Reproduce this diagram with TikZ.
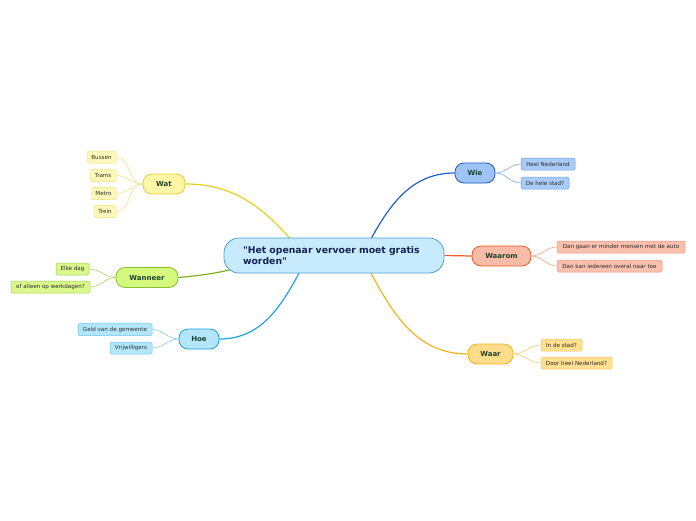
\documentclass[tikz,border=0pt]{standalone}
\usepackage{fontspec}
\setmainfont{DejaVu Sans}
\newfontfamily\dv{DejaVu Sans}
\usetikzlibrary{backgrounds}
\definecolor{cfill}{HTML}{C7EBFC}\definecolor{cdraw}{HTML}{4F9FD5}\definecolor{ctext}{HTML}{13234F}
\definecolor{mtext}{HTML}{1B4430}\definecolor{stext}{HTML}{2B2B2B}
\definecolor{yf}{HTML}{FFF7A6}\definecolor{yd}{HTML}{E5CF2E}\definecolor{ysf}{HTML}{FFF8B8}\definecolor{ysd}{HTML}{F2DF7A}\definecolor{yl}{HTML}{E8D016}
\definecolor{gf}{HTML}{D4F97E}\definecolor{gd}{HTML}{84BF2C}\definecolor{gsf}{HTML}{D9F98C}\definecolor{gsd}{HTML}{9ED050}\definecolor{gl}{HTML}{7FB01D}
\definecolor{hf}{HTML}{B4E6FB}\definecolor{hd}{HTML}{1C9FE0}\definecolor{hsf}{HTML}{B4E6FB}\definecolor{hsd}{HTML}{6FC4EE}\definecolor{hl}{HTML}{22A1E3}
\definecolor{bf}{HTML}{9EC4F5}\definecolor{bd}{HTML}{1F55C0}\definecolor{bsf}{HTML}{A9CBF7}\definecolor{bsd}{HTML}{6E9FE8}\definecolor{bl}{HTML}{1F5FCC}
\definecolor{of}{HTML}{F8BBA6}\definecolor{od}{HTML}{EE5A24}\definecolor{osf}{HTML}{F9C0AE}\definecolor{osd}{HTML}{F29276}\definecolor{ol}{HTML}{F05A28}
\definecolor{af}{HTML}{FFDC8A}\definecolor{ad}{HTML}{F0B420}\definecolor{asf}{HTML}{FFDF90}\definecolor{asd}{HTML}{F2C45C}\definecolor{al}{HTML}{F5B21B}
\tikzset{
  x=1pt,y=1pt,
  central/.style={draw=cdraw,fill=cfill,line width=0.8pt,rounded corners=15pt,minimum width=220pt,minimum height=35pt,inner sep=0pt,text=ctext,font=\dv\fontsize{9.3}{10.5}\selectfont\bfseries,align=left,text width=182pt},
  topic/.style={line width=0.8pt,rounded corners=9pt,minimum height=20pt,inner sep=0pt,text=mtext,font=\fontsize{7}{8}\selectfont\bfseries},
  sub/.style={line width=0.5pt,rounded corners=1.5pt,minimum height=12pt,inner sep=0pt,text=stext,font=\fontsize{5.6}{6.5}\selectfont},
  mline/.style={line width=1.2pt},
  sline/.style={line width=0.5pt},
}
\begin{document}
\begin{tikzpicture}
\useasboundingbox (0,0) rectangle (696,-520);
\node[central] (c) at (334,-255.5) {"Het openaar vervoer moet gratis\\worden"};
% Wat
\node[topic,draw=yd,fill=yf,minimum width=42pt] (wat) at (164,-184) {Wat};
\node[sub,draw=ysd,fill=ysf,minimum width=29pt] (bus) at (101.5,-157) {Bussen};
\node[sub,draw=ysd,fill=ysf,minimum width=26pt] (tram) at (103,-175.5) {Trams};
\node[sub,draw=ysd,fill=ysf,minimum width=25pt] (metro) at (103.5,-193.5) {Metro};
\node[sub,draw=ysd,fill=ysf,minimum width=22pt] (trein) at (105,-211.5) {Trein};
% Wanneer
\node[topic,draw=gd,fill=gf,minimum width=62pt] (wann) at (147,-277.5) {Wanneer};
\node[sub,draw=gsd,fill=gsf,minimum width=33pt] (elke) at (72.5,-269) {Elke dag};
\node[sub,draw=gsd,fill=gsf,minimum width=79pt] (werk) at (50.5,-287) {of alleen op werkdagen?};
% Hoe
\node[topic,draw=hd,fill=hf,minimum width=40pt] (hoe) at (199,-339) {Hoe};
\node[sub,draw=hsd,fill=hsf,minimum width=74pt] (geld) at (115,-329.5) {Geld van de gemeente};
\node[sub,draw=hsd,fill=hsf,minimum width=42pt] (vrij) at (131,-348) {Vrijwilligers};
% Wie
\node[topic,draw=bd,fill=bf,minimum width=40pt] (wie) at (475,-173) {Wie};
\node[sub,draw=bsd,fill=bsf,minimum width=54pt] (heel) at (548,-164) {Heel Nederland};
\node[sub,draw=bsd,fill=bsf,minimum width=48pt] (stad) at (545,-183) {De hele stad?};
% Waarom
\node[topic,draw=od,fill=of,minimum width=59pt] (waarom) at (501.5,-256) {Waarom};
\node[sub,draw=osd,fill=osf,minimum width=128pt] (auto) at (621,-247) {Dan gaan er minder mensen met de auto};
\node[sub,draw=osd,fill=osf,minimum width=105pt] (toe) at (609.5,-266) {Dan kan iedereen overal naar toe};
% Waar
\node[topic,draw=ad,fill=af,minimum width=45pt] (waar) at (490.5,-354) {Waar};
\node[sub,draw=asd,fill=asf,minimum width=41pt] (instad) at (561.5,-345) {In de stad?};
\node[sub,draw=asd,fill=asf,minimum width=71pt] (door) at (576.5,-363) {Door heel Nederland?};
\coordinate (cwat) at (300,-250);
\coordinate (cwann) at (245,-266);
\coordinate (choe) at (305,-262);
\coordinate (cwie) at (365,-250);
\coordinate (cwaar) at (365,-262);
\begin{pgfonlayer}{background}
\draw[mline,yl] (wat.east) to[out=0,in=130] (cwat);
\draw[mline,gl] (wann.east) to[out=5,in=195] (cwann);
\draw[mline,hl] (hoe.east) to[out=0,in=-118] (choe);
\draw[mline,bl] (wie.west) to[out=180,in=62] (cwie);
\draw[mline,ol] (c.east) -- (waarom.west);
\draw[mline,al] (waar.west) to[out=180,in=-62] (cwaar);
\foreach \s in {bus,tram,metro,trein} \draw[sline,ysd] (wat.west) to[out=180,in=0] (\s.east);
\foreach \s in {elke,werk} \draw[sline,gsd] (wann.west) to[out=180,in=0] (\s.east);
\foreach \s in {geld,vrij} \draw[sline,hsd] (hoe.west) to[out=180,in=0] (\s.east);
\foreach \s in {heel,stad} \draw[sline,bsd] (wie.east) to[out=0,in=180] (\s.west);
\foreach \s in {auto,toe} \draw[sline,osd] (waarom.east) to[out=0,in=180] (\s.west);
\foreach \s in {instad,door} \draw[sline,asd] (waar.east) to[out=0,in=180] (\s.west);
\end{pgfonlayer}
\end{tikzpicture}
\end{document}
